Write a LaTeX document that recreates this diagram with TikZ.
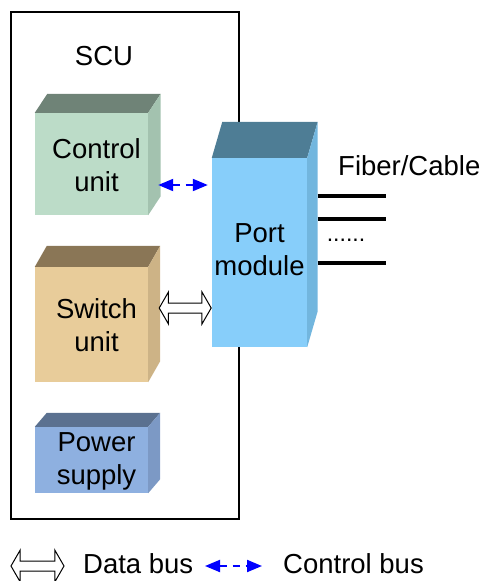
\documentclass[tikz,border=0pt]{standalone}
\usepackage{fontspec}
\setmainfont{Liberation Sans}
\usetikzlibrary{arrows.meta, shapes.arrows, positioning}

% face colours: front / top / side
\definecolor{ctrlF}{HTML}{BCDCC8}
\definecolor{ctrlT}{HTML}{6F8377}
\definecolor{ctrlS}{HTML}{A3C2AF}
\definecolor{switchF}{HTML}{E8CC9A}
\definecolor{switchT}{HTML}{8A7656}
\definecolor{switchS}{HTML}{CDB386}
\definecolor{powerF}{HTML}{8EB0E0}
\definecolor{powerT}{HTML}{5B7190}
\definecolor{powerS}{HTML}{7C99C5}
\definecolor{portF}{HTML}{87CEFA}
\definecolor{portT}{HTML}{4E7D95}
\definecolor{portS}{HTML}{72B6DE}

\begin{document}
\begin{tikzpicture}[x=1pt, y=-1pt, font=\fontsize{27.5}{33}\selectfont,
  unit/.style={minimum width=113pt, inner sep=0pt},
  unittext/.style={align=center, inner sep=0pt, font=\fontsize{27.5}{33}\selectfont},
  plain/.style={inner sep=0pt},
  ctrlbus/.style={blue, line width=2pt, dash pattern=on 7pt off 6pt,
    {Triangle[length=15pt,width=12pt]}-{Triangle[length=15pt,width=12pt]}},
  databus/.style={double arrow, draw=black, fill=white, line width=1pt,
    inner sep=0pt, inner ysep=4.5pt, double arrow head extend=11pt,
    double arrow tip angle=120, minimum height=52pt},
  fiber/.style={line width=3.5pt},
]
  \useasboundingbox (0,0) rectangle (484,581);

  % SCU frame and title
  \node[draw, line width=1.5pt, minimum width=228pt, minimum height=507pt] (scu) at (125,265.5) {};
  \node[plain] (scu-t) at (104,56) {SCU};

  % units inside the SCU: front face, then top and side faces
  \foreach \n/\cy/\h/\dx/\dy/\txt in {ctrl/164/102/12.5/-19/{Control\\unit},
      switch/324.5/115/12/-21/{Switch\\unit},
      power/460/66/12/-14/{Power\\supply}} {
    \node[unit, fill=\n F, minimum height=\h pt,
          label={[unittext, xshift=5pt, yshift=-1pt]center:\txt}] (\n) at (91.5,\cy) {};
    \fill[fill=\n T] (\n.north west) -- ([shift={(\dx,\dy)}]\n.north west)
      -- ([shift={(\dx,\dy)}]\n.north east) -- (\n.north east) -- cycle;
    \fill[fill=\n S] (\n.north east) -- ([shift={(\dx,\dy)}]\n.north east)
      -- ([shift={(\dx,\dy)}]\n.south east) -- (\n.south east) -- cycle;
  }

  % port module
  \node[unit, minimum width=95pt, minimum height=189pt, fill=portF,
        label={[unittext, yshift=3pt]center:Port\\module}] (port) at (259.5,252.5) {};
  \fill[portT] (port.north west) -- ([shift={(10.5,-36)}]port.north west)
    -- ([shift={(10.5,-36)}]port.north east) -- (port.north east) -- cycle;
  \fill[portS] (port.north east) -- ([shift={(10.5,-36)}]port.north east)
    -- ([shift={(10.5,-36)}]port.south east) -- (port.south east) -- cycle;

  % buses between the units and the port module
  \draw[ctrlbus] ([shift={(10,21)}]ctrl.east) coordinate (cb) -- ([xshift=-4pt]cb -| port.west);
  \node[databus] (dbus) at ([shift={(37,-16.5)}]switch.east) {};

  % fiber / cable lines
  \node[plain, anchor=base west] (fiber-t) at (338,175) {Fiber/Cable};
  \foreach \fy in {196,219,263}
    \draw[fiber] ([xshift=10.5pt]port.east |- 0,\fy) -- ++(68,0);
  \node[plain, anchor=base, font=\fontsize{23}{23}\selectfont] (dots) at (346,241) {......};

  % legend
  \node[databus, minimum height=53pt] (lg-data) at (37.5,566) {};
  \node[plain, anchor=base west] (lg-data-t) at (83,573) {Data bus};
  \coordinate (lg-cb-a) at (205,566);
  \coordinate (lg-cb-b) at (262,566);
  \draw[ctrlbus] (lg-cb-a) -- (lg-cb-b);
  \node[plain, anchor=base west] (lg-ctrl-t) at (283,573) {Control bus};
\end{tikzpicture}
\end{document}
